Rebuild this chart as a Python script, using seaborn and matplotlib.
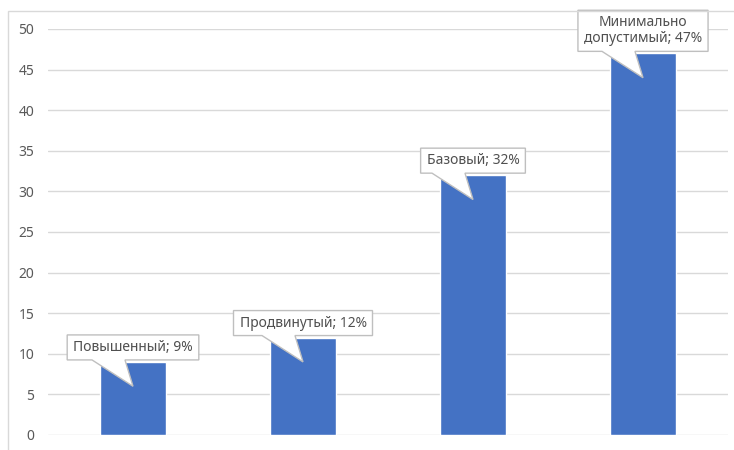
import numpy as np
import pandas as pd
import seaborn as sns
import matplotlib.pyplot as plt
import matplotlib.transforms as mtransforms
from matplotlib.patches import Polygon, Rectangle

categories = ["Повышенный", "Продвинутый", "Базовый", "Минимально\nдопустимый"]
values = [9, 12, 32, 47]
label_texts = ["Повышенный; 9%", "Продвинутый; 12%", "Базовый; 32%", "Минимально\nдопустимый; 47%"]
yticks = list(range(0, 55, 5))

sns.set_theme(style="white")
plt.rcParams['font.family'] = ['Noto Sans', 'DejaVu Sans']

W, H = 734, 450
fig = plt.figure(figsize=(W / 100, H / 100), dpi=100)
fig.patch.set_facecolor("white")
ax = fig.add_axes([48 / W, 15 / H, 680 / W, 406 / H])

df = pd.DataFrame({"cat": categories, "val": values})
sns.barplot(data=df, x="cat", y="val", color="#4472C4", width=0.39,
            saturation=1, ax=ax, zorder=2)

ax.set_ylim(0, 50)
ax.set_xlim(-0.5, 3.5)
ax.set_yticks(yticks)
ax.set_xticks([])
ax.set_xlabel("")
ax.set_ylabel("")
ax.yaxis.grid(True, color="#d9d9d9", lw=1)
ax.set_axisbelow(True)
for s in ax.spines.values():
    s.set_visible(False)
ax.tick_params(axis='y', length=0, pad=10, labelcolor="#595959", labelsize=10)
ax.set_facecolor("white")

# outer chart frame (right/bottom cropped)
fig.add_artist(Rectangle((8 / W, -0.1), 1.0, (1 - 11 / H) + 0.1,
                         transform=fig.transFigure, fill=False,
                         ec="#d9d9d9", lw=1))

padx, pady = 6, 5
texts = []
for i, (lab, v) in enumerate(zip(label_texts, values)):
    t = ax.annotate(lab, xy=(i, v), xytext=(0, 2 + pady), textcoords='offset pixels',
                    ha='center', va='bottom', fontsize=10, color="#505050",
                    zorder=6, linespacing=1.1, multialignment='center',
                    annotation_clip=False)
    texts.append(t)

fig.canvas.draw()
renderer = fig.canvas.get_renderer()
for i, (t, v) in enumerate(zip(texts, values)):
    bb = t.get_window_extent(renderer)
    x0, x1 = bb.x0 - padx, bb.x1 + padx
    y0, y1 = bb.y0 - pady, bb.y1 + pady
    cx, _ = ax.transData.transform((i, v))
    tipx, tipy = ax.transData.transform((i, v - 3))
    verts = [(x0, y0), (x0, y1), (x1, y1), (x1, y0),
             (cx - 8, y0), (tipx, tipy), (cx - 41, y0)]
    poly = Polygon(verts, closed=True, fc="white", ec="#bfbfbf", lw=1,
                   transform=mtransforms.IdentityTransform(), zorder=5)
    ax.add_patch(poly)
    poly.set_clip_on(False)

fig.savefig("out.png", dpi=100)
